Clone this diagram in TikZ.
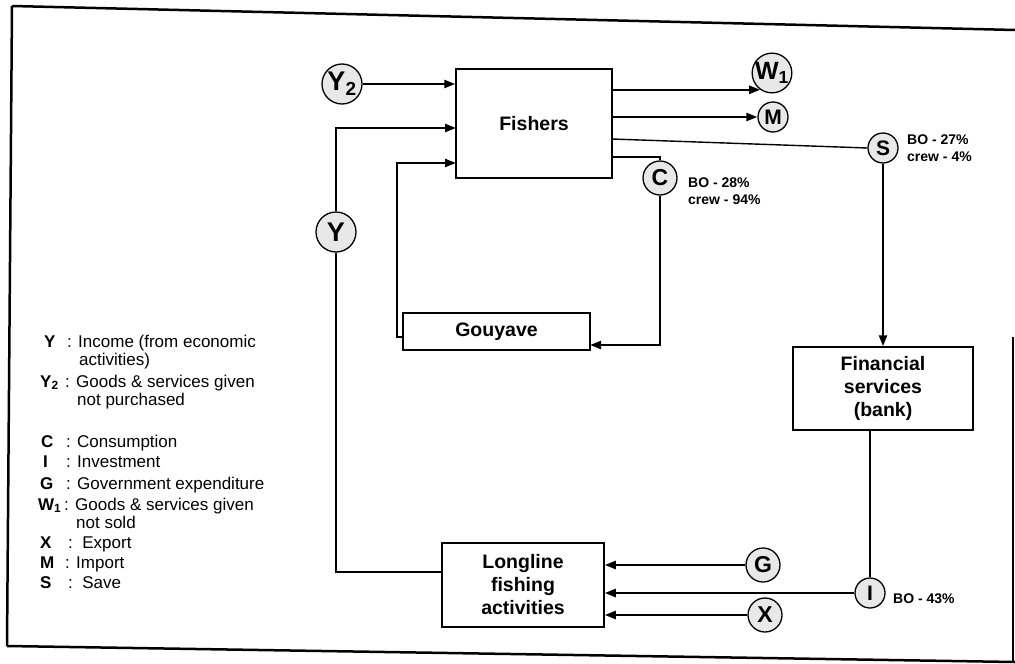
\documentclass[tikz,border=0pt]{standalone}
\usepackage{fontspec}
\setmainfont{Liberation Sans}
\usetikzlibrary{arrows.meta}
\begin{document}
\begin{tikzpicture}[x=1pt,y=-1pt,
  box/.style={draw, line width=1.5pt, inner sep=0pt, font=\fontsize{19.5}{23}\selectfont\bfseries, align=center},
  circ/.style={draw, circle, line width=1.3pt, fill=gray!18, inner sep=0pt, font=\fontsize{23}{23}\selectfont\bfseries},
  big/.style={font=\fontsize{27}{27}\selectfont\bfseries},
  small/.style={font=\fontsize{21}{21}\selectfont\bfseries},
  flow/.style={line width=2.3pt, -{Triangle[length=11pt,width=8pt]}},
  link/.style={line width=1.8pt},
  thin link/.style={line width=1.4pt},
  lab/.style={font=\fontsize{14}{17.5}\selectfont\bfseries, align=left, anchor=west, inner sep=0pt},
  key/.style={font=\fontsize{17}{20}\selectfont\bfseries, anchor=base west, inner sep=0pt},
  txt/.style={font=\fontsize{17}{20}\selectfont, anchor=base west, inner sep=0pt},
  frame/.style={line width=2.5pt}
]
\useasboundingbox (0,0) rectangle (1015,664);
% frame
\draw[frame] (12,6) -- (1015,30);
\draw[frame] (12,6) -- (7,646);
\draw[frame] (7,646) -- (1015,662);
\draw[frame] (1013,337) -- (1013,662);

% boxes
\node[box, minimum width=156pt, minimum height=109pt] (fish) at (534,123.5) {Fishers};
\node[box, minimum width=187pt, minimum height=37pt] (gouy) at (496.5,331.5) {Gouyave};
\node[box, minimum width=180pt, minimum height=83pt] (fin) at (883,388.5) {Financial\\services\\(bank)};
\node[box, minimum width=162pt, minimum height=84pt] (lon) at (523,585) {Longline\\fishing\\activities};

% circles
\node[circ, big, minimum size=40pt] (Y2) at (342,84) {Y\textsubscript{2}};
\node[circ, big, minimum size=40pt] (Y) at (336,232) {Y};
\node[circ, minimum size=38pt, font=\fontsize{25}{25}\selectfont\bfseries] (W1) at (772,73) {W\textsubscript{1}};
\node[circ, small, minimum size=30pt] (M) at (773,117) {M};
\node[circ, small, minimum size=30pt] (S) at (883,148) {S};
\node[circ, minimum size=34pt] (C) at (660,178) {C};
\node[circ, minimum size=34pt] (G) at (763,565) {G};
\node[circ, small, minimum size=30pt] (I) at (870,593) {I};
\node[circ, minimum size=34pt] (X) at (765,615) {X};

% attachment points
\coordinate (fY) at (456,128);
\coordinate (fG) at (456,163);
\coordinate (fS) at (612,139);
\coordinate (fC) at (612,157);
\coordinate (gin) at (590,345);
\coordinate (gout) at (403,337);
\coordinate (lY) at (442,572);

% connectors
\draw[flow] (Y2) -- (fish.west |- Y2);
\draw[flow] (Y.north) |- (fY);
\draw[link] (Y.south) |- (lY);
\draw[flow] (gout) -- ++(-6,0) |- (fG);
\draw[link] (fC) -| (C.north);
\draw[flow] (C.south) |- (gin);
\draw[flow] (fish.east |- W1.235) -- (W1.235);
\draw[flow] (fish.east |- M.west) -- (M.west);
\draw[thin link] (fS) -- (S.west);
\draw[flow] (S.south) -- (fin.north);
\draw[link] (I.north |- fin.south) -- (I.north);
\draw[flow] (G.west) -- (lon.east |- G.west);
\draw[flow] (I.west) -- (lon.east |- I.west);
\draw[flow] (X.west) -- (lon.east |- X.west);

% percentages
\node[lab] (Slab) at (907,148) {BO - 27\%\\crew - 4\%};
\node[lab] (Clab) at (688,191) {BO - 28\%\\crew - 94\%};
\node[lab] (Ilab) at (893,599) {BO - 43\%};

% legend
\node[key] (kY) at (44,347) {Y};
\node[txt] (tY) at (67,347) {: Income (from economic};
\node[txt] (tY1) at (79,365) {activities)};
\node[key] (kY2) at (40,387) {Y\textsubscript{2}};
\node[txt] (tY2) at (65,387) {: Goods \& services given};
\node[txt] (tY21) at (77,405) {not purchased};
\node[key] (kC) at (41,447) {C};
\node[txt] (tC) at (66,447) {: Consumption};
\node[key] (kI) at (43,467) {I};
\node[txt] (tI) at (66,467) {: Investment};
\node[key] (kG) at (40,489) {G};
\node[txt] (tG) at (66,489) {: Government expenditure};
\node[key] (kW) at (38,510) {W\textsubscript{1}};
\node[txt] (tW) at (64,510) {: Goods \& services given};
\node[txt] (tW1) at (76,528) {not sold};
\node[key] (kX) at (40,548) {X};
\node[txt] (tX) at (68,548) {:\ \ Export};
\node[key] (kM) at (40,568) {M};
\node[txt] (tM) at (65,568) {: Import};
\node[key] (kS) at (40,588) {S};
\node[txt] (tS) at (68,588) {:\ \ Save};
\end{tikzpicture}
\end{document}
